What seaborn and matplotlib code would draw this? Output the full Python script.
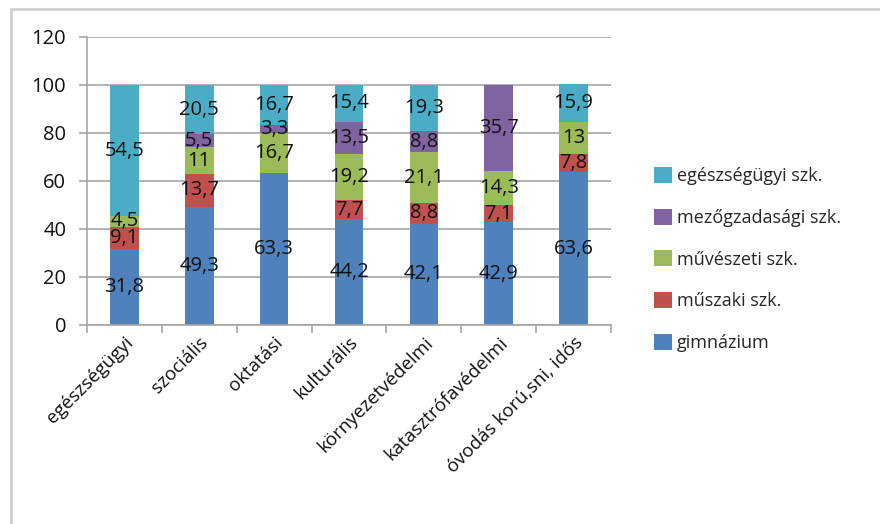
import numpy as np
import pandas as pd
import seaborn as sns
import matplotlib.pyplot as plt
from matplotlib.patches import Rectangle, Patch

categories = ['egészségügyi', 'szociális', 'oktatási', 'kulturális',
              'környezetvédelmi', 'katasztrófavédelmi', 'óvodás korú,sni, idős']
series = ['gimnázium', 'műszaki szk.', 'művészeti szk.', 'mezőgzadasági szk.', 'egészségügyi szk.']
gimnazium = [31.8, 49.3, 63.3, 44.2, 42.1, 42.9, 63.6]
muszaki = [9.1, 13.7, 0, 7.7, 8.8, 7.1, 7.8]
muveszeti = [4.5, 11, 16.7, 19.2, 21.1, 14.3, 13]
mezogazdasagi = [0, 5.5, 3.3, 13.5, 8.8, 35.7, 0]
egeszsegugyi = [54.5, 20.5, 16.7, 15.4, 19.3, 0, 15.9]
colors = ['#4F81BD', '#C0504D', '#9BBB59', '#8064A2', '#4BACC6']

values = [gimnazium, muszaki, muveszeti, mezogazdasagi, egeszsegugyi]

sns.set_theme(style='white')
plt.rcParams['font.family'] = ['Open Sans', 'DejaVu Sans']

fig = plt.figure(figsize=(8.8, 5.24), dpi=100)
ax = fig.add_axes([87/880, 1-325/524, (611-87)/880, (325-37)/524])

bottom = np.zeros(len(categories))
for name, vals, col in zip(series, values, colors):
    df = pd.DataFrame({'cat': categories, 'val': vals})
    sns.barplot(data=df, x='cat', y='val', order=categories, color=col,
                bottom=bottom, width=0.38, saturation=1, ax=ax, errorbar=None,
                linewidth=0)
    for i, v in enumerate(vals):
        if v > 0:
            ax.text(i, bottom[i] + v/2, f'{v:g}'.replace('.', ','),
                    ha='center', va='center', fontsize=14.5, color='#111111')
    bottom = bottom + np.array(vals)

ax.set_ylim(0, 120)
ax.set_xlim(-0.5, len(categories) - 0.5)
ax.set_yticks(range(0, 121, 20))
ax.set_xlabel('')
ax.set_ylabel('')
ax.grid(axis='y', color='#A6A6A6', linewidth=1.2)
ax.set_axisbelow(True)
for s in ['top', 'right']:
    ax.spines[s].set_visible(False)
for s in ['left', 'bottom']:
    ax.spines[s].set_color('#A6A6A6')
    ax.spines[s].set_linewidth(1.2)

ax.set_xticks(np.arange(-0.5, len(categories)), minor=True)
ax.tick_params(axis='x', which='minor', length=6, color='#A6A6A6', width=1.2, direction='out', bottom=True)
ax.tick_params(axis='x', which='major', length=0, pad=6)
ax.tick_params(axis='y', length=6, color='#A6A6A6', width=1.2, direction='out', left=True, pad=9,
               labelsize=14.5, labelcolor='#111111')
ax.set_xticks(range(len(categories)))
ax.set_xticklabels(categories, rotation=45, ha='right', rotation_mode='anchor', fontsize=13.5,
                   color='#111111')

handles = [Patch(facecolor=c, edgecolor='none') for c in colors][::-1]
fig.legend(handles, series[::-1], loc='center left', bbox_to_anchor=(0.725, 0.505),
           frameon=False, fontsize=13, handlelength=1.0, handleheight=1.0,
           handletextpad=0.25, labelspacing=1.3)

fig.patches.append(Rectangle((11/880, -0.2), 1.2, 1.2 - 9/524, transform=fig.transFigure,
                             fill=False, edgecolor='#D0D0D0', linewidth=2))

fig.savefig('out.png', dpi=100)
